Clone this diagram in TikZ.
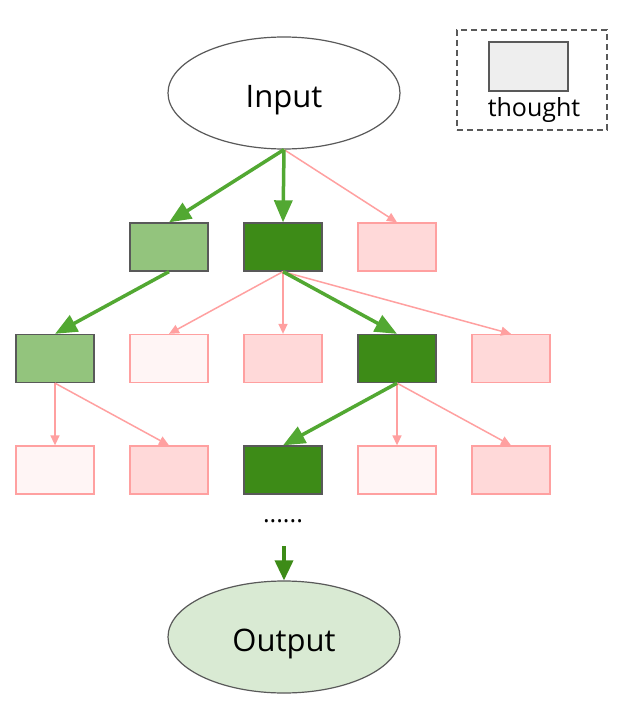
\documentclass[tikz,border=0pt]{standalone}
\usepackage{fontspec}
\setmainfont{Open Sans}
\usetikzlibrary{arrows.meta,shapes.geometric}
\definecolor{gedge}{HTML}{52A832}
\definecolor{dgreen}{HTML}{3D8B17}
\definecolor{lgreen}{HTML}{93C47D}
\definecolor{pinkline}{HTML}{FFA0A0}
\definecolor{pinkfill}{HTML}{FFD9D9}
\definecolor{palefill}{HTML}{FFF5F5}
\definecolor{grayline}{HTML}{595959}
\definecolor{outfill}{HTML}{D9EAD3}
\definecolor{legfill}{HTML}{EEEEEE}
\begin{document}
\begin{tikzpicture}[x=1pt,y=-1pt,
 box/.style={rectangle, minimum width=78pt, minimum height=48pt, inner sep=0pt, line width=1.3pt},
 good/.style={box, draw=grayline, fill=dgreen},
 okay/.style={box, draw=grayline, fill=lgreen},
 bad/.style={box, draw=pinkline, fill=pinkfill},
 pale/.style={box, draw=pinkline, fill=palefill},
 oval/.style={ellipse, draw=grayline, line width=1.2pt, minimum width=232pt, minimum height=112pt, inner sep=0pt, text height=29pt, text depth=0pt, font=\fontsize{31}{36}\selectfont},
 garrow/.style={draw=gedge, line width=3.5pt, -{Triangle[length=22pt,width=18pt]}},
 parrow/.style={draw=pinkline, line width=1.5pt, -{Triangle[length=10pt,width=9pt]}},
 oarrow/.style={draw=dgreen, line width=3.5pt, -{Triangle[length=20pt,width=18pt]}},
]
\useasboundingbox (0,0) rectangle (640,711);
\fill[white] (0,0) rectangle (640,711);
% legend
\node[draw=grayline, dashed, line width=1.2pt, dash pattern=on 6pt off 4pt, minimum width=150pt, minimum height=100pt, inner sep=0pt] (leg) at (532,80) {};
\node[rectangle, draw=grayline, fill=legfill, line width=1.3pt, minimum width=79pt, minimum height=49pt, inner sep=0pt] (lgbox) at (528.5,66.5) {};
\node[font=\fontsize{25}{30}\selectfont, inner sep=0pt] (lgtext) at (534,110) {thought};
% nodes
\node[oval, fill=white] (in) at (284,93) {Input};
\node[okay] (a1) at (169,247) {};
\node[good] (a2) at (283,247) {};
\node[bad]  (a3) at (397,247) {};
\node[okay] (b1) at (55,358.5) {};
\node[pale] (b2) at (169,358.5) {};
\node[bad]  (b3) at (283,358.5) {};
\node[good] (b4) at (397,358.5) {};
\node[bad]  (b5) at (511,358.5) {};
\node[pale] (c1) at (55,470) {};
\node[bad]  (c2) at (169,470) {};
\node[good] (c3) at (283,470) {};
\node[pale] (c4) at (397,470) {};
\node[bad]  (c5) at (511,470) {};
\node[font=\fontsize{25}{30}\selectfont, inner sep=0pt] (dots) at (283,521) {......};
\coordinate (dtop) at (284,546);
\node[oval, fill=outfill] (out) at (284,637) {Output};
% pink edges
\draw[parrow] (in.south) -- (a3.north);
\draw[parrow] (a2.south) -- (b2.north);
\draw[parrow] (a2.south) -- (b3.north);
\draw[parrow] (a2.south) -- (b5.north);
\draw[parrow] (b1.south) -- (c1.north);
\draw[parrow] (b1.south) -- (c2.north);
\draw[parrow] (b4.south) -- (c4.north);
\draw[parrow] (b4.south) -- (c5.north);
% green edges
\draw[garrow] (in.south) -- (a1.north);
\draw[garrow] (in.south) -- (a2.north);
\draw[garrow] (a1.south) -- (b1.north);
\draw[garrow] (a2.south) -- (b4.north);
\draw[garrow] (b4.south) -- (c3.north);
\draw[oarrow] (dtop) -- (out.north);
\end{tikzpicture}
\end{document}
